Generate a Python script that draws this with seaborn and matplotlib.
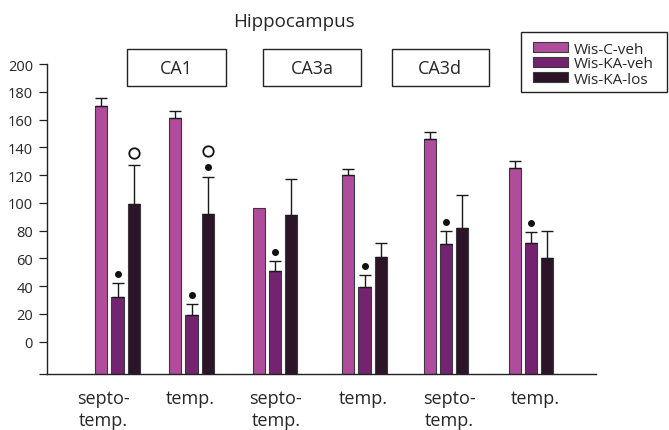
import numpy as np
import pandas as pd
import matplotlib
matplotlib.use("Agg")
import matplotlib.pyplot as plt
import seaborn as sns
from matplotlib.patches import Rectangle

# ---------------- data ----------------
regions = ["CA1", "CA1", "CA3a", "CA3a", "CA3d", "CA3d"]
segments = ["septo-\ntemp.", "temp.", "septo-\ntemp.", "temp.", "septo-\ntemp.", "temp."]
groups = ["Wis-C-veh", "Wis-KA-veh", "Wis-KA-los"]

c_veh = [170, 161, 96, 120, 146, 125]
c_veh_sem = [5.5, 5, 0, 4.5, 5, 5]
ka_veh = [32, 19, 51, 39, 70, 71]
ka_veh_sem = [10.5, 8, 7, 9, 10, 8]
ka_los = [99, 92, 91, 61, 81.5, 60]
ka_los_sem = [28.5, 26.5, 26.5, 10, 24, 20]

ka_veh_dot = [True, True, True, True, True, True]
ka_los_dot = [False, True, False, False, False, False]
ka_los_circle = [True, True, False, False, False, False]

yticks = [0, 20, 40, 60, 80, 100, 120, 140, 160, 180, 200]

# ---------------- layout ----------------
W, H = 669, 431
group_x = [117.5, 191.5, 275, 364.5, 446, 531]
label_x = [103, 190, 276, 363, 449, 535]
BASE = -23
colors = ["#B04C9C", "#73236F", "#2C1429"]

values = [c_veh, ka_veh, ka_los]
sems = [c_veh_sem, ka_veh_sem, ka_los_sem]

rows = []
for g, vals in zip(groups, values):
    for x, v in zip(group_x, vals):
        rows.append({"pos": x, "group": g, "value": v})
df = pd.DataFrame(rows)

sns.set_style("white")
plt.rcParams["font.family"] = ["Open Sans", "DejaVu Sans"]

fig = plt.figure(figsize=(W / 100, H / 100), dpi=100)
ax = fig.add_axes([47 / W, 1 - 374.5 / H, (596 - 47) / W, (374.5 - 65) / H])

sns.barplot(data=df, x="pos", y="value", hue="group", hue_order=groups,
            palette=colors, saturation=1, native_scale=True, orient="x",
            width=0.662, gap=0.245, edgecolor="#3a3a3a", linewidth=0.8,
            errorbar=None, ax=ax, legend=True)

# extend bars down to the axis baseline
for p in ax.patches:
    h = p.get_height()
    p.set_y(BASE)
    p.set_height(h - BASE)

bars = ax.patches
n = len(group_x)
centers = [[bars[i * n + j].get_x() + bars[i * n + j].get_width() / 2
            for j in range(n)] for i in range(len(groups))]

for i in range(len(groups)):
    for j in range(n):
        if sems[i][j] > 0:
            ax.errorbar(centers[i][j], values[i][j], yerr=[[0], [sems[i][j]]],
                        fmt="none", ecolor="#1a1a1a", elinewidth=1.0,
                        capsize=4.4, capthick=1.0, zorder=1)

for j in range(n):
    if ka_veh_dot[j]:
        ax.plot(centers[1][j], ka_veh[j] + ka_veh_sem[j] + 6.5, "o",
                color="#111111", ms=4, zorder=5)
    top = ka_los[j] + ka_los_sem[j]
    if ka_los_dot[j]:
        top += 7.5
        ax.plot(centers[2][j], top, "o", color="#111111", ms=4, zorder=5)
        top += 2.5
    if ka_los_circle[j]:
        ax.plot(centers[2][j], top + 8.5, "o", mfc="white", mec="#111111",
                mew=1.3, ms=7.5, zorder=5)

ax.set_xlim(47, 596)
ax.set_ylim(BASE, 200)
ax.set_yticks([BASE] + yticks, [""] + [str(t) for t in yticks], fontsize=10.5)
ax.set_xticks(label_x, segments, fontsize=13, linespacing=1.3)
ax.tick_params(axis="x", length=0, pad=11, bottom=False)
ax.tick_params(axis="y", left=True, length=6, width=0.9, direction="out",
               color="#222", pad=4)
ax.set_xlabel("")
ax.set_ylabel("")
for s in ["top", "right"]:
    ax.spines[s].set_visible(False)
for s in ["left", "bottom"]:
    ax.spines[s].set_color("#222")
    ax.spines[s].set_linewidth(1.0)

handles, labels = ax.get_legend_handles_labels()
leg = ax.legend(handles, labels, loc="upper left",
                bbox_to_anchor=(533 / W, 1 - 42.5 / H), bbox_transform=fig.transFigure,
                frameon=False, fontsize=11, handlelength=2.3,
                handleheight=0.6, labelspacing=0.0, handletextpad=0.35,
                borderpad=0, borderaxespad=0)
fig.add_artist(Rectangle((521 / W, 1 - 93 / H), 146 / W, 60 / H,
                         transform=fig.transFigure, fill=False, ec="#222", lw=1.0))

fig.text(294 / W, 1 - 22 / H, "Hippocampus", ha="center", va="center", fontsize=13.5)

box_x = [(127.3, 226), (263.3, 360.7), (391.7, 489)]
region_names = list(dict.fromkeys(regions))
for (x0, x1), name in zip(box_x, region_names):
    fig.add_artist(Rectangle((x0 / W, 1 - 87 / H), (x1 - x0) / W, 37 / H,
                             transform=fig.transFigure, fill=False,
                             ec="#222", lw=1.0))
    fig.text((x0 + x1) / 2 / W, 1 - 68.5 / H, name, ha="center", va="center",
             fontsize=13)

fig.savefig("out.png", dpi=100)
